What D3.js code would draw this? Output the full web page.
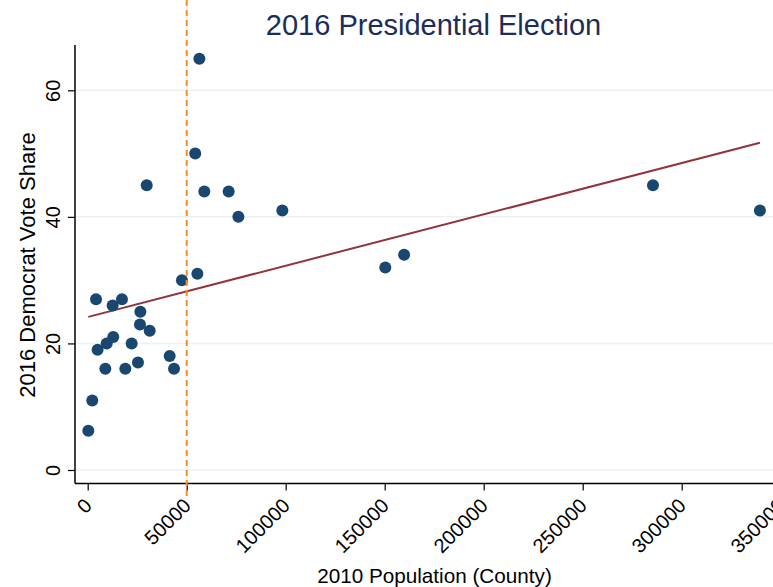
<!DOCTYPE html>
<html>
<head>
<meta charset="utf-8">
<script src="https://cdn.jsdelivr.net/npm/d3@7"></script>
<style>
  html, body { margin: 0; padding: 0; background: #ffffff; }
  svg { display: block; font-family: "Liberation Sans", Arial, Helvetica, sans-serif; }
</style>
</head>
<body>
<svg id="chart" width="773" height="587"></svg>
<script>
// County population (2010) and Democratic vote share (2016)
const population = [300, 2300, 4200, 5000, 8900, 9600, 12600, 12900, 17300, 19000,
                    22200, 25400, 26400, 26600, 29800, 31300, 41400, 43600, 47600, 54300,
                    55400, 56400, 58900, 71200, 76100, 98300, 150300, 159800, 285500, 339500];
const demShare   = [6.2, 11, 27, 19, 16, 20, 26, 21, 27, 16,
                    20, 17, 23, 25, 45, 22, 18, 16, 30, 50,
                    31, 65, 44, 44, 40, 41, 32, 34, 45, 41];

// Linear fit endpoints
const fitPop   = [300, 339500];
const fitShare = [24.2, 51.7];

// Reference threshold on population
const threshold = [50000];

const xTicks = [0, 50000, 100000, 150000, 200000, 250000, 300000, 350000];
const yTicks = [0, 20, 40, 60];

const svg = d3.select("#chart");

const x = d3.scaleLinear().domain([0, 350000]).range([87.7, 780.7]);
const y = d3.scaleLinear().domain([0, 60]).range([470, 90.3]);

const axisX = 75, axisY = 483.5, plotTop = 45;
const tickFont = "20px";

// Horizontal grid
svg.append("g").selectAll("line").data(yTicks).join("line")
  .attr("x1", axisX).attr("x2", 773)
  .attr("y1", d => y(d)).attr("y2", d => y(d))
  .attr("stroke", "#eaf2f3").attr("stroke-width", 1.5);

// Y axis
const gy = svg.append("g").attr("transform", `translate(${axisX},0)`)
  .call(d3.axisLeft(y).tickValues(yTicks).tickSize(7).tickSizeOuter(0).tickPadding(0));
gy.select(".domain").remove();
gy.selectAll(".tick line").attr("stroke", "#000").attr("stroke-width", 1.2);
gy.selectAll(".tick text").remove();
gy.selectAll(".tick").append("text")
  .attr("transform", "translate(-15,0) rotate(-90)")
  .attr("text-anchor", "middle")
  .attr("fill", "#000")
  .style("font-size", tickFont)
  .style("font-family", "'Liberation Sans', Arial, sans-serif")
  .text(d => d);
svg.append("line").attr("x1", axisX).attr("x2", axisX).attr("y1", plotTop).attr("y2", axisY)
  .attr("stroke", "#000").attr("stroke-width", 1.5);

// X axis
const gx = svg.append("g").attr("transform", `translate(0,${axisY})`)
  .call(d3.axisBottom(x).tickValues(xTicks).tickSize(7).tickSizeOuter(0).tickFormat(d3.format("d")));
gx.select(".domain").remove();
gx.selectAll(".tick line").attr("stroke", "#000").attr("stroke-width", 1.2);
gx.selectAll(".tick text")
  .attr("y", 0).attr("dy", 0)
  .attr("transform", "translate(5,23.5) rotate(-45)")
  .attr("text-anchor", "end")
  .attr("fill", "#000")
  .style("font-size", tickFont)
  .style("font-family", "'Liberation Sans', Arial, sans-serif");
svg.append("line").attr("x1", axisX).attr("x2", 773).attr("y1", axisY).attr("y2", axisY)
  .attr("stroke", "#000").attr("stroke-width", 1.5);

// Fitted line
svg.append("path")
  .datum(fitPop.map((p, i) => [p, fitShare[i]]))
  .attr("d", d3.line().x(d => x(d[0])).y(d => y(d[1])))
  .attr("fill", "none").attr("stroke", "#90353b").attr("stroke-width", 2);

// Scatter points
svg.append("g").selectAll("circle").data(population.map((p, i) => [p, demShare[i]])).join("circle")
  .attr("cx", d => x(d[0])).attr("cy", d => y(d[1])).attr("r", 6)
  .attr("fill", "#1a476f");

// Threshold line
svg.append("g").selectAll("line").data(threshold).join("line")
  .attr("x1", d => x(d)).attr("x2", d => x(d))
  .attr("y1", 0).attr("y2", 497)
  .attr("stroke", "#ff8c1a").attr("stroke-width", 2)
  .attr("stroke-dasharray", "6,4");

// Title
svg.append("text").attr("x", 433.5).attr("y", 35).attr("text-anchor", "middle")
  .attr("fill", "#1c2d5a").style("font-size", "29px").text("2016 Presidential Election");

// Axis titles
svg.append("text").attr("transform", "translate(35,265) rotate(-90)")
  .attr("text-anchor", "middle").attr("fill", "#000").style("font-size", "22px")
  .text("2016 Democrat Vote Share");
svg.append("text").attr("x", 434.5).attr("y", 583).attr("text-anchor", "middle")
  .attr("fill", "#000").style("font-size", "20.7px").text("2010 Population (County)");
</script>
</body>
</html>
